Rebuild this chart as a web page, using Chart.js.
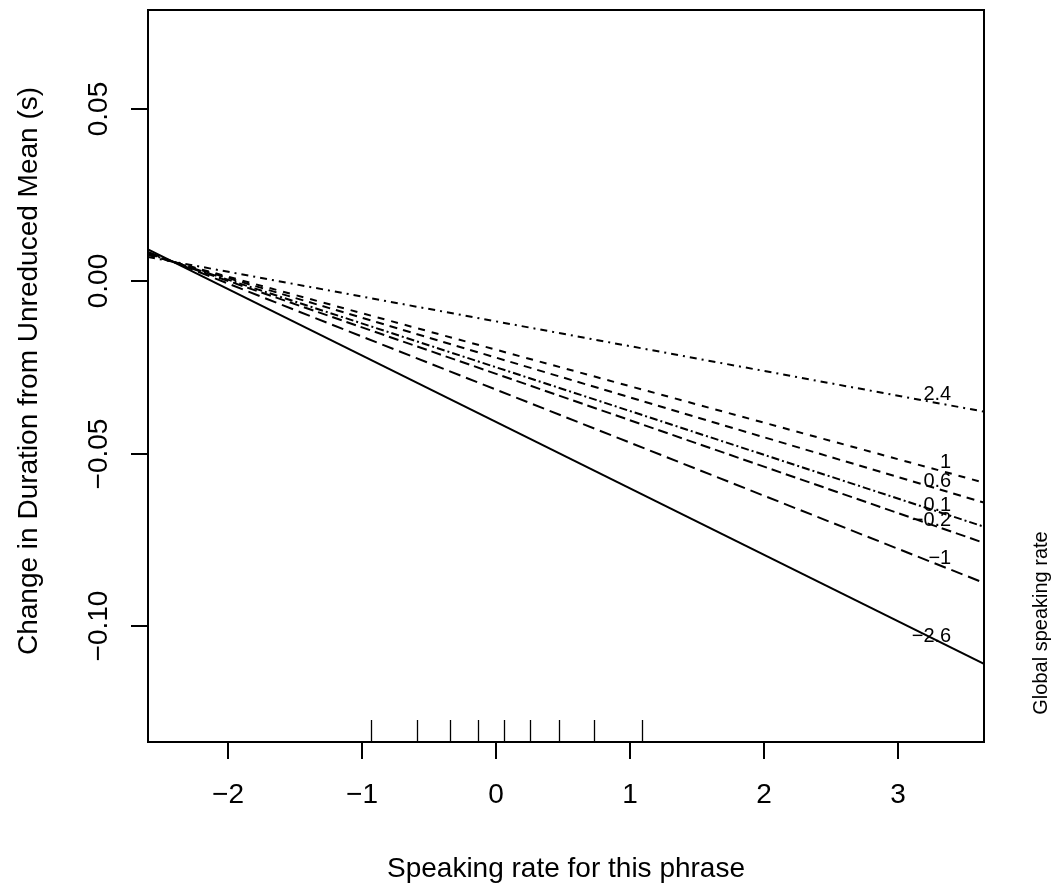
<!DOCTYPE html>
<html>
<head>
<meta charset="utf-8">
<script src="https://cdn.jsdelivr.net/npm/chart.js@4/dist/chart.umd.min.js"></script>
<style>
  html, body { margin: 0; padding: 0; background: #ffffff; }
  #wrap { width: 1056px; height: 888px; position: relative; }
</style>
</head>
<body>
<div id="wrap"><canvas id="chart" width="1056" height="888"></canvas></div>
<script>
// Global speaking rate groups, one fitted line each
const globalRates = [-2.6, -1, -0.2, 0.1, 0.6, 1, 2.4];
const rateLabels = ['\u22122.6', '\u22121', '\u22120.2', '0.1', '0.6', '1', '2.4'];

// Phrase speaking rate range covered by the lines
const xRange = [-2.60, 3.645];
// Predicted change in duration at the left and right ends of that range
const startValues = [0.0093, 0.0086, 0.0082, 0.0081, 0.0079, 0.0077, 0.0071];
const endValues = [-0.1110, -0.0875, -0.0759, -0.0712, -0.0642, -0.0584, -0.0378];

// Observed phrase rates shown as a rug along the bottom
const phraseRates = [-0.937, -0.593, -0.347, -0.138, 0.057, 0.251, 0.468, 0.729, 1.088];

// Axis ticks
const xTicks = [-2, -1, 0, 1, 2, 3];
const xTickLabels = ['\u22122', '\u22121', '0', '1', '2', '3'];
const yTicks = [0.05, 0.00, -0.05, -0.10];
const yTickLabels = ['0.05', '0.00', '\u22120.05', '\u22120.10'];
const yRange = [-0.1337, 0.0788];

// Where the group labels sit along x
const labelX = 3.40;

const dashes = [
  [],              // -2.6 solid
  [12, 6],         // -1 long dash
  [10, 5],         // -0.2 dash
  [8, 3, 2, 3],    // 0.1 dot-dash
  [8, 6],          // 0.6 dash
  [7, 7],          // 1 short dash
  [7, 5, 2, 5]     // 2.4 dash-dot, wide gaps
];

const FONT = '"Liberation Sans", Arial, Helvetica, sans-serif';

const rAxesPlugin = {
  id: 'rAxes',
  afterDatasetsDraw(chart) {
    const ctx = chart.ctx;
    const area = chart.chartArea;
    const xs = chart.scales.x;
    const ys = chart.scales.y;
    ctx.save();
    ctx.strokeStyle = '#000';
    ctx.fillStyle = '#000';

    // plot box
    ctx.lineWidth = 2;
    ctx.strokeRect(area.left, area.top, area.right - area.left, area.bottom - area.top);

    // x axis ticks and labels
    ctx.lineWidth = 2;
    ctx.font = '28px ' + FONT;
    ctx.textAlign = 'center';
    ctx.textBaseline = 'alphabetic';
    xTicks.forEach((v, i) => {
      const px = Math.round(xs.getPixelForValue(v));
      ctx.beginPath();
      ctx.moveTo(px, area.bottom);
      ctx.lineTo(px, area.bottom + 17);
      ctx.stroke();
      ctx.fillText(xTickLabels[i], px, area.bottom + 61);
    });

    // y axis ticks and rotated labels
    yTicks.forEach((v, i) => {
      const py = Math.round(ys.getPixelForValue(v));
      ctx.beginPath();
      ctx.moveTo(area.left, py);
      ctx.lineTo(area.left - 17, py);
      ctx.stroke();
      ctx.save();
      ctx.translate(area.left - 41, py);
      ctx.rotate(-Math.PI / 2);
      ctx.fillText(yTickLabels[i], 0, 0);
      ctx.restore();
    });

    // rug of observed phrase rates
    ctx.lineWidth = 1.3;
    phraseRates.forEach(v => {
      const px = Math.round(xs.getPixelForValue(v)) + 0.5;
      ctx.beginPath();
      ctx.moveTo(px, area.bottom);
      ctx.lineTo(px, area.bottom - 22);
      ctx.stroke();
    });

    // axis titles
    ctx.font = '28px ' + FONT;
    ctx.textAlign = 'center';
    ctx.fillText('Speaking rate for this phrase', (area.left + area.right) / 2, area.bottom + 135);
    ctx.save();
    ctx.translate(37, (area.top + area.bottom) / 2 - 5);
    ctx.rotate(-Math.PI / 2);
    ctx.fillText('Change in Duration from Unreduced Mean (s)', 0, 0);
    ctx.restore();

    // group labels next to each line
    ctx.font = '20px ' + FONT;
    ctx.textAlign = 'right';
    ctx.textBaseline = 'middle';
    const lx = xs.getPixelForValue(labelX);
    globalRates.forEach((g, i) => {
      const t = (labelX - xRange[0]) / (xRange[1] - xRange[0]);
      const yv = startValues[i] + t * (endValues[i] - startValues[i]);
      ctx.fillText(rateLabels[i], lx, ys.getPixelForValue(yv) - 11);
    });

    // legend title for the groups, in the right margin
    ctx.textAlign = 'center';
    ctx.textBaseline = 'alphabetic';
    ctx.save();
    ctx.translate(1047, 623);
    ctx.rotate(-Math.PI / 2);
    ctx.fillText('Global speaking rate', 0, 0);
    ctx.restore();

    ctx.restore();
  }
};

new Chart(document.getElementById('chart').getContext('2d'), {
  type: 'scatter',
  data: {
    datasets: globalRates.map((g, i) => ({
      label: rateLabels[i],
      data: [
        { x: xRange[0], y: startValues[i] },
        { x: xRange[1], y: endValues[i] }
      ],
      showLine: true,
      borderColor: '#000000',
      backgroundColor: '#000000',
      borderWidth: 2,
      borderDash: dashes[i],
      borderCapStyle: 'butt',
      pointRadius: 0,
      pointHoverRadius: 0,
      fill: false,
      tension: 0
    }))
  },
  options: {
    responsive: false,
    animation: false,
    devicePixelRatio: 1,
    layout: { padding: { left: 148, top: 10, right: 1056 - 984, bottom: 888 - 742 } },
    scales: {
      x: { type: 'linear', min: xRange[0], max: xRange[1], display: false },
      y: { type: 'linear', min: yRange[0], max: yRange[1], display: false }
    },
    plugins: {
      legend: { display: false },
      tooltip: { enabled: false }
    },
    events: []
  },
  plugins: [rAxesPlugin]
});
</script>
</body>
</html>
